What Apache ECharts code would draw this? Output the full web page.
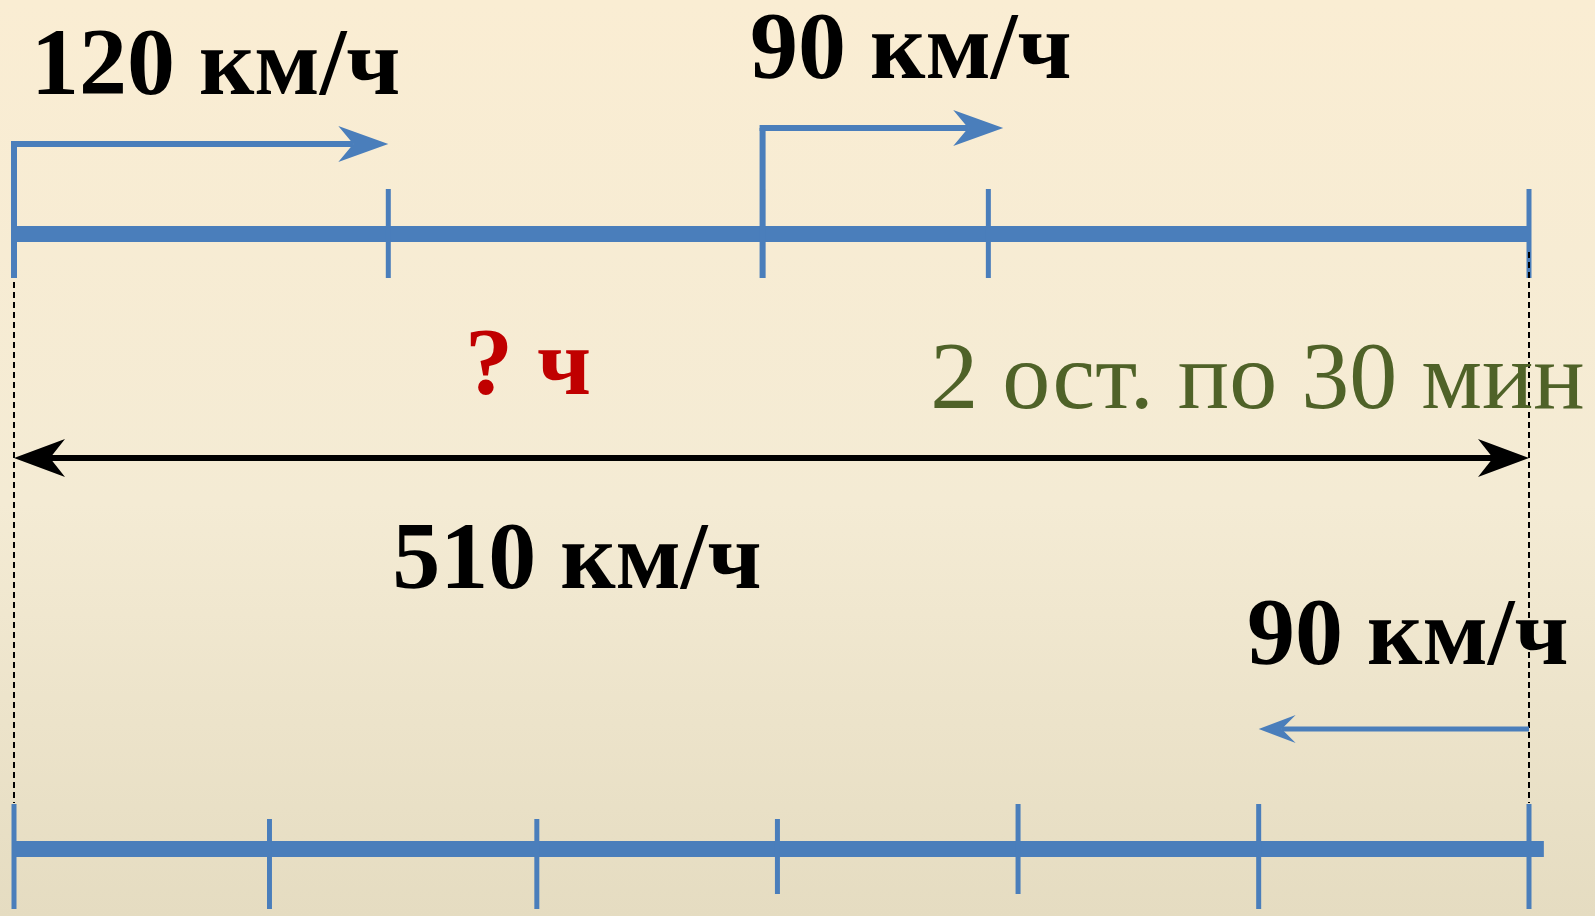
<!DOCTYPE html>
<html><head><meta charset="utf-8">
<script src="https://cdn.jsdelivr.net/npm/echarts@6/dist/echarts.min.js"></script>
<style>
html,body{margin:0;padding:0;background:#F5ECD4;}
#c{width:1595px;height:916px;background:linear-gradient(to bottom,#FAEDD3 0%,#F4EBD4 55%,#E5DCC1 100%);}
</style>
</head><body><div id="c"></div>
<script>
// ---- data (distances along the 510 km route) ----
const totalKm = 510;
const topTicksKm = [0, 126, 252, 328, 510];
const bottomTicksKm = [0, 86, 176, 257, 338, 419, 510];
const firstArrowKm = [0, 126];      // start, tip  (120 км/ч)
const secondArrowKm = [252, 333];   // start, tip  (90 км/ч after stops)
const oncomingArrowKm = [510, 419]; // start, tip  (90 км/ч oncoming)
const labels = ['120 км/ч', '90 км/ч', '? ч', '2 ост. по 30 мин', '510 км/ч', '90 км/ч'];

// ---- layout / style (y in pixel rows of the canvas) ----
const BLUE = '#4A7EBB', GREEN = '#4F6228', RED = '#C00000', BLACK = '#000';
const L = {
  topLineY: 234, bottomLineY: 849, lineW: 16, bottomLineEndKm: 515,
  topTick: [189, 278], tickW: 5,
  bottomTickExt: [[804,909],[819,909],[819,909],[819,894],[804,894],[804,909],[804,909]],
  arrow1Y: 144, arrow2Y: 128, arrowW: 6,
  dashY: [252, 803],
  totalY: 458, totalW: 6,
  oncomingY: 729, oncomingW: 5,
  labelAnchor: [[5.7,69],[247.8,53],[151.8,369],[308.4,383],[127.3,563],[415.1,639]],
  labelColor: [BLACK, BLACK, RED, GREEN, BLACK, BLACK],
  labelBold: [true, true, true, false, true, true]
};

function seg(p1, p2, color, w, dash) {
  return {type:'line', shape:{x1:p1[0],y1:p1[1],x2:p2[0],y2:p2[1]},
    style:{stroke:color, lineWidth:w, lineCap:'butt', lineDash: dash || null}};
}
// arrow head: tip, unit direction d, length len, half width hw, notch distance from tip nd
function head(tip, d, len, hw, nd, color) {
  const px = -d[1], py = d[0];
  const bx = tip[0]-d[0]*len, by = tip[1]-d[1]*len;
  return {type:'polygon', shape:{points:[
    tip, [bx+px*hw, by+py*hw], [tip[0]-d[0]*nd, tip[1]-d[1]*nd], [bx-px*hw, by-py*hw]]},
    style:{fill:color}};
}
function hArrow(api, startKm, tipKm, y, color, w, len, hw, nd) {
  const s = api.coord([startKm, y]), t = api.coord([tipKm, y]);
  const dir = t[0] > s[0] ? 1 : -1;
  const notch = [t[0]-dir*nd, t[1]];
  return [seg(s, notch, color, w), head(t, [dir,0], len, hw, nd, color)];
}

const chart = echarts.init(document.getElementById('c'), null, {renderer:'canvas'});
chart.setOption({
  backgroundColor: 'transparent',
  animation: false,
  grid: {left: 14, right: 66, top: 0, bottom: 0},
  xAxis: {type:'value', min:0, max:totalKm, show:false},
  yAxis: {type:'value', min:0, max:916, inverse:true, show:false},
  series: [
    { // top scale
      type:'custom', clip:false, data: topTicksKm.map(k=>[k]),
      renderItem(params, api) {
        const k = api.value(0), ch = [];
        if (params.dataIndex === 0) ch.push(seg(api.coord([0,L.topLineY]), api.coord([totalKm,L.topLineY]), BLUE, L.lineW));
        ch.push(seg(api.coord([k,L.topTick[0]]), api.coord([k,L.topTick[1]]), BLUE, L.tickW));
        return {type:'group', children: ch};
      }
    },
    { // bottom scale
      type:'custom', clip:false, data: bottomTicksKm.map(k=>[k]),
      renderItem(params, api) {
        const k = api.value(0), ch = [], e = L.bottomTickExt[params.dataIndex];
        if (params.dataIndex === 0) ch.push(seg(api.coord([0,L.bottomLineY]), api.coord([L.bottomLineEndKm,L.bottomLineY]), BLUE, L.lineW));
        ch.push(seg(api.coord([k,e[0]]), api.coord([k,e[1]]), BLUE, L.tickW));
        return {type:'group', children: ch};
      }
    },
    { // dashed guides at both ends
      type:'custom', clip:false, data: [[0],[totalKm]],
      renderItem(params, api) {
        const k = api.value(0);
        return seg(api.coord([k,L.dashY[0]]), api.coord([k,L.dashY[1]]), BLACK, 2, [6,4]);
      }
    },
    { // movement arrows
      type:'custom', clip:false, data: [firstArrowKm, secondArrowKm, oncomingArrowKm],
      renderItem(params, api) {
        const a = api.value(0), b = api.value(1), i = params.dataIndex;
        if (i === 2) {
          return {type:'group', children: hArrow(api, a, b, L.oncomingY, BLUE, L.oncomingW, 37, 14, 23)};
        }
        const y = i === 0 ? L.arrow1Y : L.arrow2Y;
        const bot = api.coord([a, L.topTick[1]]), corner = api.coord([a, y]);
        const t = api.coord([b, y]);
        const ch = [
          {type:'polyline', shape:{points:[bot, [corner[0], corner[1]]]}, style:{stroke:BLUE, lineWidth:L.arrowW, fill:null}},
          seg([corner[0]-L.arrowW/2, corner[1]], [t[0]-35, t[1]], BLUE, L.arrowW),
          head(t, [1,0], 50, 18, 35, BLUE)
        ];
        return {type:'group', children: ch};
      }
    },
    { // total distance double arrow
      type:'custom', clip:false, data: [[0, totalKm]],
      renderItem(params, api) {
        const s = api.coord([api.value(0), L.totalY]), t = api.coord([api.value(1), L.totalY]);
        return {type:'group', children: [
          seg([s[0]+36, s[1]], [t[0]-36, t[1]], BLACK, L.totalW),
          head(s, [-1,0], 51, 19, 36, BLACK),
          head(t, [1,0], 51, 19, 36, BLACK)
        ]};
      }
    },
    { // labels
      type:'custom', clip:false, data: labels.map((t,i)=>[i]),
      renderItem(params, api) {
        const i = params.dataIndex, a = L.labelAnchor[i];
        const p = api.coord(a);
        return {type:'text', x:p[0], y:p[1], style:{
          text: labels[i], fill: L.labelColor[i],
          font: (L.labelBold[i] ? 'bold ' : '') + '96px "Liberation Serif", "Times New Roman", serif',
          align:'left', verticalAlign:'middle'}};
      }
    }
  ]
});
</script>
</body></html>
